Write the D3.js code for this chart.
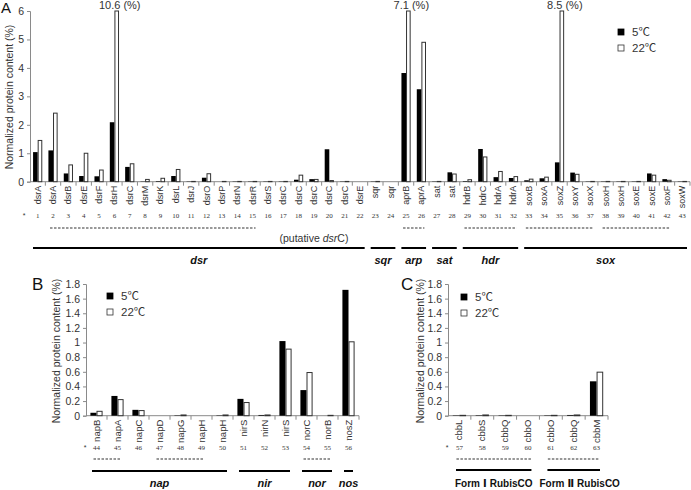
<!DOCTYPE html>
<html><head><meta charset="utf-8">
<script src="https://cdn.jsdelivr.net/npm/d3@7"></script>
<style>
body{margin:0;background:#fff;}
svg{display:block;font-family:"Liberation Sans",Arial,"Noto Sans CJK JP",sans-serif;}
</style></head>
<body><svg id="c" width="691" height="490"></svg>
<script>
// ---------- DATA ----------
const catsA = ["dsrA","dsrA","dsrB","dsrE","dsrF","dsrH","dsrC","dsrM","dsrK","dsrL","dsrJ","dsrO","dsrP","dsrN","dsrR","dsrS","dsrC","dsrC","dsrC","dsrC","dsrC","dsrE","sqr","sqr","aprB","aprA","sat","sat","hdrB","hdrC","hdrA","hdrA","soxB","soxA","soxZ","soxY","soxX","soxH","soxH","soxE","soxE","soxF","soxW"];
const numsA = ["1","2","3","4","5","6","7","8","9","10","11","12","13","14","15","16","17","18","19","20","21","22","23","24","25","26","27","28","29","30","31","32","33","34","35","36","37","38","39","40","41","42","43"];
const c5A  = [1.04,1.10,0.29,0.20,0.19,2.09,0.52,0.01,0.02,0.20,0.01,0.14,0.00,0.01,0.01,0.01,0.01,0.07,0.09,1.14,0.01,0,0.01,0,3.82,3.25,0.01,0.33,0.02,1.15,0.16,0.13,0.05,0.12,0.68,0.32,0.01,0.01,0.01,0.01,0.29,0.09,0.01];
const c22A = [1.45,2.41,0.59,1.00,0.41,10.6,0.63,0.08,0.12,0.43,0.01,0.28,0.01,0.01,0.01,0.01,0.01,0.23,0.08,0.04,0.01,0,0.01,0,7.1,4.9,0.01,0.27,0.07,0.87,0.36,0.18,0.09,0.16,8.5,0.26,0.01,0.01,0.01,0.01,0.23,0.05,0.01];
const ticksA = [0,1,2,3,4,5,6];

const catsB = ["napB","napA","napC","napD","napG","napH","napH","nirS","nirN","nirS","norC","norB","nosZ"];
const numsB = ["44","45","46","47","48","49","50","51","52","53","54","55","56"];
const c5B  = [0.04,0.27,0.08,0,0.005,0,0.005,0.23,0.01,1.02,0.35,0,1.72];
const c22B = [0.06,0.22,0.07,0,0.01,0,0.01,0.18,0.01,0.91,0.59,0.005,1.01];

const catsC = ["cbbL","cbbS","cbbQ","cbbO","cbbO","cbbQ","cbbM"];
const numsC = ["57","58","59","60","61","62","63"];
const c5C  = [0.005,0.006,0.005,0,0.005,0.01,0.47];
const c22C = [0.005,0.01,0.005,0,0.005,0.01,0.595];
const ticksBC = [0,0.2,0.4,0.6,0.8,1,1.2,1.4,1.6,1.8];

const seriesNames = ["5℃","22℃"];

// group annotations (category index ranges, 0-based)
const dashedA = [[1,14],[24,25],[28,31],[32,36],[37,41]];
const solidA  = [{t:"dsr",a:0,b:21},{t:"sqr",a:22,b:23},{t:"arp",a:24,b:25},{t:"sat",a:26,b:27},{t:"hdr",a:28,b:31},{t:"sox",a:32,b:42}];
const dashedB = [[0,1],[3,5],[10,11]];
const solidB  = [{t:"nap",a:0,b:6},{t:"nir",a:7,b:9},{t:"nor",a:10,b:11},{t:"nos",a:12,b:12}];
const dashedC = [[0,3],[4,6]];
const solidC  = [{t:["Form","Ⅰ","RubisCO"],a:0,b:3,sh:0},{t:["Form","Ⅱ","RubisCO"],a:4,b:6,sh:6}];

// ---------- DRAW ----------
const svg = d3.select("#c");
const AX = "#8a8a8a", TX = "#333";

function panel(o){
  const g = svg.append("g");
  const n = o.cats.length;
  const x = d3.scaleBand().domain(d3.range(n)).range([o.x0,o.x1]);
  const y = d3.scaleLinear().domain([0,o.ymax]).range([o.y0,o.y1]);
  const bw = x.bandwidth()*o.bf;
  // y axis
  const ya = d3.axisLeft(y).tickValues(o.ticks).tickSize(3).tickPadding(3).tickFormat(d=>String(d));
  const yg = g.append("g").attr("transform",`translate(${o.x0},0)`).call(ya);
  yg.select(".domain").attr("stroke",AX);
  yg.selectAll(".tick line").attr("stroke",AX);
  yg.selectAll(".tick text").attr("fill",TX).style("font-size",o.tfs+"px").style("font-family","inherit");
  // x axis line & boundary ticks
  g.append("line").attr("x1",o.x0).attr("x2",o.x1).attr("y1",o.y0).attr("y2",o.y0).attr("stroke",AX);
  g.selectAll("line.bt").data(d3.range(1,n+1)).enter().append("line")
    .attr("x1",i=>x(0)+i*x.step()).attr("x2",i=>x(0)+i*x.step())
    .attr("y1",o.y0).attr("y2",o.y0+4).attr("stroke",AX);
  // bars
  const clip = v=>Math.min(v,o.ymax);
  g.selectAll("rect.b5").data(o.v5).enter().append("rect")
    .attr("x",(d,i)=>x(i)+x.bandwidth()/2-bw).attr("width",bw)
    .attr("y",d=>y(clip(d))).attr("height",d=>o.y0-y(clip(d)))
    .attr("fill","#000");
  g.selectAll("rect.b22").data(o.v22).enter().append("rect")
    .attr("x",(d,i)=>x(i)+x.bandwidth()/2+0.5).attr("width",bw-1)
    .attr("y",d=>y(clip(d))).attr("height",d=>Math.max(0,o.y0-y(clip(d))))
    .attr("fill","#fff").attr("stroke","#333").attr("stroke-width",1)
    .attr("visibility",d=>d>0?"visible":"hidden");
  // overflow labels
  o.v22.forEach((d,i)=>{ if(d>o.ymax){
    g.append("text").attr("x",x(i)+x.bandwidth()/2+bw/2+3).attr("y",9)
      .attr("text-anchor","middle").style("font-size","11px").attr("fill",TX).text(d+" (%)");
  }});
  // category labels
  g.selectAll("text.cl").data(o.cats).enter().append("text")
    .attr("transform",(d,i)=>`translate(${x(i)+x.bandwidth()/2+3},${o.y0+4}) rotate(-90)`)
    .attr("text-anchor","end").style("font-size",o.cfs+"px").attr("fill",TX).text(d=>d);
  // numbers
  g.selectAll("text.nm").data(o.nums).enter().append("text")
    .attr("x",(d,i)=>x(i)+x.bandwidth()/2).attr("y",o.ny)
    .attr("text-anchor","middle").style("font-size","7px").style("font-family","'Liberation Serif',serif").attr("fill",TX).text(d=>d);
  g.append("text").attr("x",o.starX).attr("y",o.ny).attr("text-anchor","middle")
    .style("font-size","7px").attr("fill",TX).text("*");
  // dashed
  o.dashed.forEach(([a,b])=>{
    g.append("line").attr("x1",x(a)+x.bandwidth()/2-3).attr("x2",x(b)+x.bandwidth()/2+3)
      .attr("y1",o.dy).attr("y2",o.dy).attr("stroke","#333").attr("stroke-width",1.2).attr("stroke-dasharray","2.5,1.5");
  });
  // solid + labels
  o.solid.forEach(s=>{
    const xa = x(s.a)+o.si, xb = x(s.b)+x.step()-o.si;
    g.append("line").attr("x1",xa).attr("x2",xb).attr("y1",o.sy).attr("y2",o.sy)
      .attr("stroke","#000").attr("stroke-width",2);
    const t = g.append("text").attr("x",(xa+xb)/2+(s.sh||0)).attr("y",o.ly).attr("text-anchor","middle")
      .style("font-size",o.gfs+"px").style("font-weight","bold").style("font-style",o.italic?"italic":"normal")
      .attr("fill","#111");
    if(Array.isArray(s.t)){
      t.append("tspan").text(s.t[0]);
      t.append("tspan").attr("dx",3).style("font-family","'DejaVu Sans'").text(s.t[1]);
      t.append("tspan").attr("dx",3).text(s.t[2]);
    } else t.text(s.t);
  });
  // y title
  g.append("text").attr("transform",`translate(${o.tx},${o.ty}) rotate(-90)`)
    .attr("text-anchor","middle").style("font-size","10.5px").attr("fill",TX).text("Normalized protein content (%)");
  // panel letter
  g.append("text").attr("x",o.lx).attr("y",o.lyy).style("font-size",o.lfs+"px").attr("fill","#111").text(o.letter);
  // legend
  seriesNames.forEach((s,i)=>{
    g.append("rect").attr("x",o.gx).attr("y",o.gy+i*16).attr("width",6).attr("height",6)
      .attr("fill",i?"#fff":"#000").attr("stroke",i?"#333":"#000").attr("stroke-width",0.8);
    g.append("text").attr("x",o.gx+14).attr("y",o.gy+i*16+7).style("font-size","11.5px").attr("fill",TX).text(s);
  });
  return {x,y,g};
}

const pA = panel({cats:catsA,nums:numsA,v5:c5A,v22:c22A,ticks:ticksA,ymax:6,
  x0:30,x1:690,y0:181.7,y1:11,bf:0.3,tfs:10.5,cfs:9,ny:218,starX:24,
  dashed:dashedA,solid:solidA,dy:228,sy:248,ly:264,si:3,italic:true,gfs:11,
  tx:13,ty:97,letter:"A",lx:1,lyy:13,lfs:15,gx:618,gy:29});
// putative dsrC note
pA.g.append("text").attr("x",(pA.x(16)+pA.x(20)+pA.x.bandwidth())/2).attr("y",242)
  .attr("text-anchor","middle").style("font-size","10.5px").attr("fill",TX)
  .html('(putative <tspan font-style="italic">dsr</tspan>C)');

panel({cats:catsB,nums:numsB,v5:c5B,v22:c22B,ticks:ticksBC,ymax:1.8,
  x0:86,x1:359,y0:415.7,y1:284,bf:0.29,tfs:10.5,cfs:9.5,ny:450,starX:85,
  dashed:dashedB,solid:solidB,dy:459,sy:471,ly:487,si:6,italic:true,gfs:11,
  tx:60,ty:351,letter:"B",lx:32,lyy:290,lfs:17,gx:107,gy:293});

panel({cats:catsC,nums:numsC,v5:c5C,v22:c22C,ticks:ticksBC,ymax:1.8,
  x0:448,x1:608,y0:415.7,y1:284,bf:0.29,tfs:10.5,cfs:9.5,ny:450,starX:447,
  dashed:dashedC,solid:solidC,dy:459,sy:470,ly:487,si:8,italic:false,gfs:10,
  tx:424,ty:351,letter:"C",lx:401,lyy:290,lfs:17,gx:461,gy:294});
</script></body></html>
